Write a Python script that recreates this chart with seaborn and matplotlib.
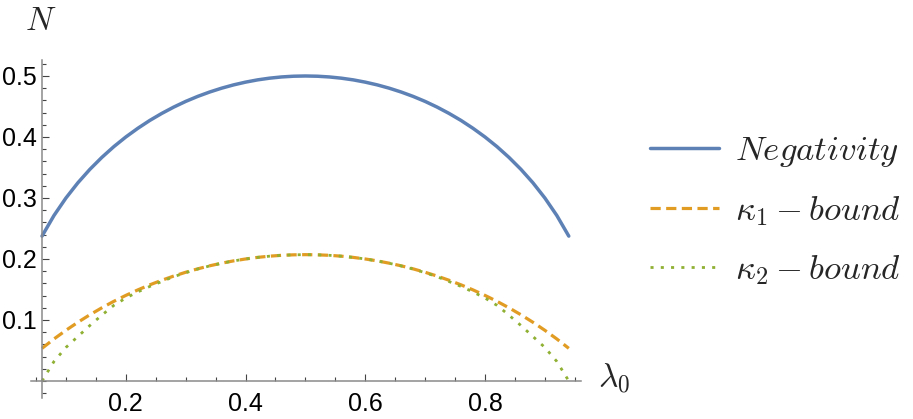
import matplotlib
matplotlib.use("Agg")
import matplotlib.pyplot as plt
import seaborn as sns
import pandas as pd
from matplotlib.ticker import FixedLocator, MultipleLocator

# lambda_0 sample points and the three curves
lam = [0.06, 0.08, 0.10, 0.12, 0.14, 0.16, 0.18, 0.20, 0.22, 0.24, 0.26, 0.28,
       0.30, 0.32, 0.34, 0.36, 0.38, 0.40, 0.42, 0.44, 0.46, 0.48, 0.50,
       0.52, 0.54, 0.56, 0.58, 0.60, 0.62, 0.64, 0.66, 0.68, 0.70, 0.72,
       0.74, 0.76, 0.78, 0.80, 0.82, 0.84, 0.86, 0.88, 0.90, 0.92, 0.94]

negativity = [0.2375, 0.2713, 0.3000, 0.3250, 0.3470, 0.3666, 0.3842, 0.4000,
              0.4142, 0.4271, 0.4386, 0.4490, 0.4583, 0.4665, 0.4737, 0.4800,
              0.4854, 0.4899, 0.4936, 0.4964, 0.4984, 0.4996, 0.5000,
              0.4996, 0.4984, 0.4964, 0.4936, 0.4899, 0.4854, 0.4800, 0.4737,
              0.4665, 0.4583, 0.4490, 0.4386, 0.4271, 0.4142, 0.4000, 0.3842,
              0.3666, 0.3470, 0.3250, 0.3000, 0.2713, 0.2375]

kappa1 = [0.0535, 0.0689, 0.0831, 0.0963, 0.1086, 0.1200, 0.1306, 0.1403,
          0.1493, 0.1576, 0.1651, 0.1720, 0.1782, 0.1838, 0.1888, 0.1931,
          0.1969, 0.2000, 0.2026, 0.2046, 0.2060, 0.2068, 0.2071,
          0.2068, 0.2060, 0.2046, 0.2026, 0.2000, 0.1969, 0.1931, 0.1888,
          0.1838, 0.1782, 0.1720, 0.1651, 0.1576, 0.1493, 0.1403, 0.1306,
          0.1200, 0.1086, 0.0963, 0.0831, 0.0689, 0.0535]

kappa2 = [0.0000, 0.0320, 0.0550, 0.0730, 0.0910, 0.1080, 0.1240, 0.1360,
          0.1460, 0.1550, 0.1630, 0.1710, 0.1775, 0.1835, 0.1886, 0.1930,
          0.1968, 0.2000, 0.2026, 0.2046, 0.2060, 0.2068, 0.2071,
          0.2068, 0.2060, 0.2046, 0.2026, 0.2000, 0.1968, 0.1930, 0.1886,
          0.1835, 0.1775, 0.1710, 0.1630, 0.1550, 0.1460, 0.1360, 0.1240,
          0.1080, 0.0910, 0.0730, 0.0550, 0.0320, 0.0000]

df = pd.DataFrame({"lam": lam, "neg": negativity, "k1": kappa1, "k2": kappa2})

sns.set_style("ticks")
plt.rcParams["font.family"] = ["Liberation Sans", "DejaVu Sans"]
plt.rcParams["mathtext.fontset"] = "cm"

fig = plt.figure(figsize=(9.13, 4.19), dpi=100)
ax = fig.add_axes([31 / 913, 21 / 419, 550 / 913, 338 / 419])

sns.lineplot(data=df, x="lam", y="neg", ax=ax, color="#5E81B5", lw=2.5,
             label=r"$Negativity$", errorbar=None)
sns.lineplot(data=df, x="lam", y="k1", ax=ax, color="#E19C24", lw=2.3,
             linestyle=(0, (3.2, 1.7)), label=r"$\kappa_1-bound$", errorbar=None)
sns.lineplot(data=df, x="lam", y="k2", ax=ax, color="#8FB032", lw=2.0,
             linestyle=(0, (1.1, 2.6)), label=r"$\kappa_2-bound$", errorbar=None)

ax.set_xlim(0.0416, 0.9604)
ax.set_ylim(-0.0279, 0.5262)
ax.set_xlabel("")
ax.set_ylabel("")

# mathematica style crossing axes
for s in ["top", "right"]:
    ax.spines[s].set_visible(False)
ax.spines["left"].set_position(("data", 0.06))
ax.spines["bottom"].set_position(("data", 0))
for s in ["left", "bottom"]:
    ax.spines[s].set_color("#8a8a8a")
    ax.spines[s].set_linewidth(1.1)

ax.xaxis.set_major_locator(FixedLocator([0.2, 0.4, 0.6, 0.8]))
ax.xaxis.set_minor_locator(MultipleLocator(0.05))
ax.yaxis.set_major_locator(FixedLocator([0.1, 0.2, 0.3, 0.4, 0.5]))
ax.yaxis.set_minor_locator(MultipleLocator(0.02))
ax.set_xticklabels(["0.2", "0.4", "0.6", "0.8"])
ax.set_yticklabels(["0.1", "0.2", "0.3", "0.4", "0.5"])

ax.tick_params(which="both", direction="in", color="#444444", width=0.8,
               labelsize=18, labelcolor="black", bottom=True, left=True,
               top=False, right=False)
ax.tick_params(which="major", length=5)
ax.tick_params(which="minor", length=2.6)
ax.tick_params(axis="x", pad=8)
ax.tick_params(axis="y", pad=4)

fig.text(41 / 913, 1 - 22 / 419, r"$N$", fontsize=24, ha="center", va="center")
fig.text(614 / 913, 1 - 378 / 419, r"$\lambda_0$", fontsize=24,
         ha="center", va="center")

ax.legend(loc="center left", bbox_to_anchor=(650 / 913, 1 - 210.5 / 419),
          bbox_transform=fig.transFigure, frameon=False, fontsize=25,
          handlelength=2.0, handletextpad=0.45, labelspacing=0.72,
          borderpad=0, borderaxespad=0)

fig.savefig("out.png", dpi=100)
